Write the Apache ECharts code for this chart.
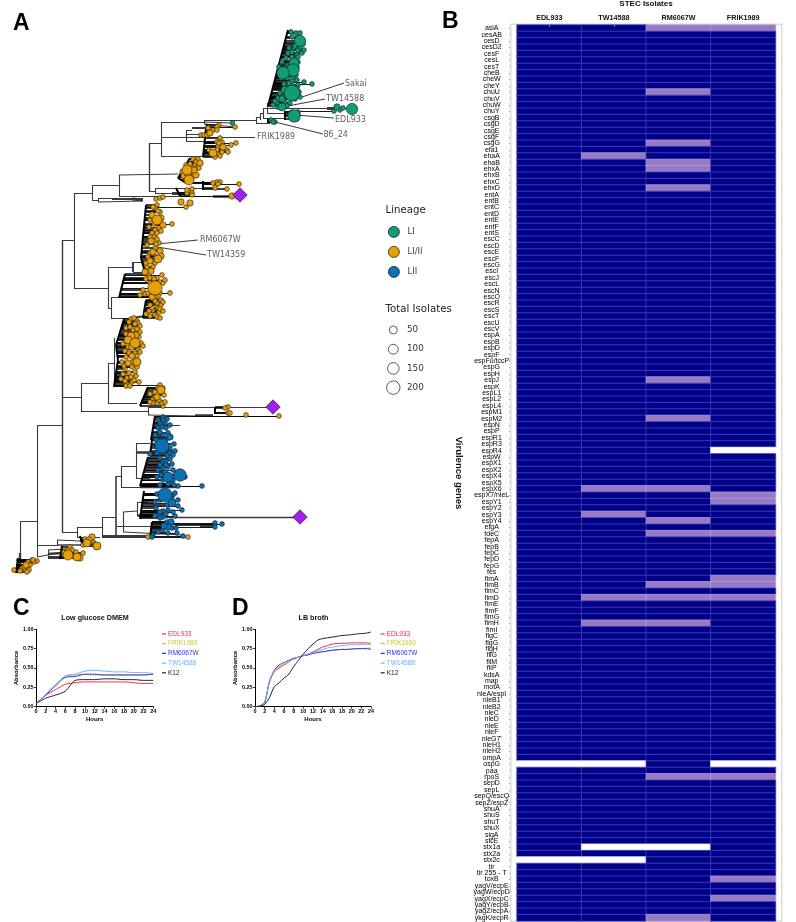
<!DOCTYPE html>
<html><head><meta charset="utf-8"><style>html,body{margin:0;padding:0;background:#fff}#c{width:796px;height:922px}</style>
<script src="https://cdn.jsdelivr.net/npm/echarts@6/dist/echarts.min.js"></script></head>
<body><div id="c"></div><script>
// ---------- Panel B data ----------
const isolates = ['EDL933','TW14588','RM6067W','FRIK1989'];
const genes = ['aslA','cesAB','cesD','cesD2','cesF','cesL','cesT','cheB','cheW','cheY','chuU','chuV','chuW','chuY','csgB','csgD','csgE','csgF','csgG','efa1','ehaA','ehaB','ehxA','ehxB','ehxC','ehxD','entA','entB','entC','entD','entE','entF','entS','escC','escD','escE','escF','escG','escI','escJ','escL','escN','escO','escR','escS','escT','escU','escV','espA','espB','espD','espF','espFu/tccP','espG','espH','espJ','espK','espL1','espL2','espL4','espM1','espM2','espN','espP','espR1','espR3','espR4','espW','espX1','espX2','espX4','espX5','espX6','espX7/nleL','espY1','espY2','espY3','espY4','etgA','fdeC','fepA','fepB','fepC','fepD','fepG','fes','fimA','fimB','fimC','fimD','fimE','fimF','fimG','fimH','fimI','flgC','flgG','flgH','fliG','fliM','fliP','kdsA','map','motA','nleA/espI','nleB1','nleB2','nleC','nleD','nleE','nleF',"nleG7'",'nleH1','nleH2','ompA','ospG','paa','rpoS','sepD','sepL','sepQ/escQ','sepZ/espZ','shuA','shuS','shuT','shuX','sigA','stcE','stx1a','stx2a','stx2c','tir','tir 255 - T','toxB','yagV/ecpE','yagW/ecpD','yagX/ecpC','yagY/ecpB','yagZ/ecpA','ykgK/ecpR'];
const partialEDL933 = [];
const partialTW14588 = ['ehaA','espX6','espY3','fimD','fimH'];
const partialRM6067W = ['aslA','chuU','csgG','ehaB','ehxA','ehxD','espJ','espM2','espX6','espY4','fdeC','fimB','fimD','fimH','rpoS','ykgK/ecpR'];
const partialFRIK1989 = ['aslA','espX7/nleL','espY1','fdeC','fimA','fimB','fimD','rpoS','toxB','yagX/ecpC'];
const absentEDL933 = ['ospG','stx2c'];
const absentTW14588 = ['ospG','stx1a','stx2c'];
const absentRM6067W = ['stx1a'];
const absentFRIK1989 = ['espR4','ospG'];
// ---------- Panels C, D data ----------
const hoursC = [0,2,4,6,8,10,12,14,16,18,20,22,24];
const dmemEDL933 = [.04,.15,.22,.29,.31,.32,.32,.32,.32,.32,.31,.30,.30];
const dmemFRIK1989 = [.04,.16,.29,.39,.41,.42,.41,.41,.41,.41,.41,.41,.42];
const dmemRM6067W = [.04,.15,.27,.38,.39,.42,.42,.41,.41,.41,.41,.41,.42];
const dmemTW14588 = [.04,.16,.28,.40,.42,.46,.47,.46,.45,.45,.44,.44,.43];
const dmemK12 = [.04,.11,.15,.20,.34,.35,.35,.36,.36,.35,.35,.34,.34];
const hoursD = [0,1,2,3,4,5,6,7,8,9,10,11,12,13,14,15,16,17,18,19,20,21,22,23,24];
const lbEDL933 = [0,.01,.05,.32,.45,.50,.54,.58,.62,.64,.66,.68,.71,.74,.77,.79,.81,.815,.82,.82,.825,.825,.825,.825,.82];
const lbFRIK1989 = [0,.01,.05,.32,.46,.52,.56,.59,.62,.64,.66,.67,.69,.70,.71,.72,.73,.735,.74,.74,.745,.75,.75,.755,.76];
const lbRM6067W = [0,.01,.06,.33,.47,.54,.57,.60,.62,.64,.66,.67,.69,.70,.71,.72,.73,.735,.74,.74,.745,.75,.75,.75,.74];
const lbTW14588 = [0,.01,.05,.33,.46,.53,.57,.60,.63,.64,.66,.68,.70,.72,.74,.76,.77,.78,.79,.795,.80,.80,.805,.805,.80];
const lbK12 = [0,.005,.03,.12,.26,.31,.37,.42,.52,.60,.68,.75,.81,.86,.88,.89,.90,.91,.92,.925,.93,.94,.945,.95,.965];
const growthColors = {EDL933:'#ee3040',FRIK1989:'#c9c92a',RM6067W:'#3030ee',TW14588:'#6fb0ff',K12:'#222222'};
// ---------- Panel A data: tree space (distance, tip order, isolates) ----------
const branches = [
[37,425,37,545],[37,425,62,425],[62,240,62,532,1.4],[62,240,74,240],[74,193,74,288],[74,193,92,193],[92,185,92,200],[92,185,119,185],[119,175,119,196],[119,175,178,174],[119,196,213,196],[213,196,232,196,2.5],[92,200,98,200],[98,198,98,202],[98,198,143,198],[112,199,132,199,2.2],[132,199,143,200,2.8],[98,202,143,201],
[149,143,149,191,1.4],[149,143,161,143],[161,122,161,156],[161,122,204,122],[161,137,186,137],[186,130,186,141],[161,156,202,156],[149,191,155,191],[155,188,155,193],[155,188,203,188],[155,193,172,193],[172,193,192,193,2.8],[186,130,192,130],[192,128,207,128,2.2],[186,134,205,134],[186,141,204,141],[204,120,204,124],[204,120,256,120],[204,124,235,127],[204,122,232,123],
[256,117,256,123],[256,123,270,123],[256,117,260,117],[260,113,260,120],[260,113,263,113],[263,108,263,118],[263,118,285,118],[263,108,267,108],[267,103,267,113],[267,103,272,103],[267,113,285,113],[285,113,285,118],[267,108,327,108],[327,108,337,108,2.8],[337,108,352,109],
[62,397,81,397],[81,383,81,411],[81,383,108,383],[108,363,108,403],[108,363,114,363],[108,403,137,403],[114,338,114,385],[81,411,148,411],[148,407,148,415],[148,407,272,407],[148,415,195,416],[195,415,213,415,2.6],[213,416,280,416],
[74,288,108,288],[108,267,108,308],[108,267,133,267],[133,262,133,272,2],[133,262,143,262],[133,272,145,272],[108,308,111,308],[111,297,111,318],[111,297,119,297],[111,318,132,318],[132,318,146,316,2.2],
[20,521,37,521],[20,521,20,560],[62,532,77,532],[77,527,77,537],[77,527,102,527],[102,517,102,536],[102,517,116,517],[116,476,116,536,1.6],[116,476,121,476],[121,466,121,487],[121,466,136,466],[136,452,136,478],[136,443,136,452],[136,443,150,443],[136,478,150,478],[136,452,150,452,2.6],[121,487,140,487],[140,486,177,486,3.4],[177,486,202,486],
[116,526,123,526],[123,512,123,532],[123,512,137,511],[137,502,137,515],[137,502,148,502],[137,515,148,515,2.6],[123,526,175,526],[175,525,200,525],[200,525,215,525,3.4],[123,532,183,535],[102,536,148,536,3.2],[77,537,100,537],[148,515,160,517],[160,517,295,517,1.3],[167,425,180,425],
[37,545,37,557],[37,545,57,545],[57,540,57,545],[57,540,80,541],[80,541,90,538,2.4],[57,545,83,545,1.6],[37,557,48,555],[48,550,48,557],[48,550,66,549],[48,554,62,553,2.6],[48,557,70,557,3.2],[20,553,20,568,2.4],[17,563,35,561],[17,566,30,566,2],[16,569,28,570,2.4],[16,560,28,560,1.6]
];
const cladeEdges = [ // x,y at the clade's first tip, x,y at its last tip
[288,30,268,106],[285,111,285,120],[268,119,268,123],
[207,124,205,135],[205,138,203,157],[190,158,178,178],[178,178,186,183],[203,181,203,190],[176,188,180,196],
[146,205,141,258],[141,258,145,272],[125,274,119,298],[146,300,143,318],
[124,319,116,345],[116,345,118,360],[118,360,114,387],[148,387,140,406],[215,407,215,414],
[155,416,151,440],[152,440,150,456],[148,457,140,486],[144,491,140,519],[152,522,150,538],
[80,536,83,546],[62,546,60,559],[18,558,16,573]];
const leaders = [[344,83,290,101],[325,99,282,107],[334,118,295,115],[323,134,275,122],[255,137,186,137],[198,240,157,244],[206,255,157,247]];
const tipLabels = [['Sakai',345,84],['TW14588',326,99],['EDL933',335,119.5],['86_24',323.5,134.5],['FRIK1989',257,137],['RM6067W',200,240],['TW14359',207,255]];
const outgroups = [[240,195],[273,407],[300,517]];
const tipsLI = [[296,33],[300,33],[292,37],[300,41,150],[296,43],[289,48],[294,48],[298,50],[302,53],[297,55],[292,57],[298,57],[294,63,100],[282,62],[288,65],[293,70,200],[283,73,200],[289,75],[287,78],[293,77],[297,80],[304,82,10],[312,84,10],[298,85],[293,86],[288,87],[285,90,50],[297,88],[292,93,400],[287,95,25],[283,97],[278,98,10],[282,99,25],[285,102],[290,103],[277,103],[282,107,50],[273,105],
[291,32],[297,38],[303,44],[295,46],[288,53],[292,52],[300,47],[304,50],[286,58],[291,61],[298,62],[285,68],[290,66],[297,67],[279,67],[281,78],[285,74],[292,81],[296,75],[289,83],[284,84],[291,89],[299,92],[295,99],[290,97],[280,93],[275,101],[287,106],[278,107],[300,97],
[334,111],[337,107,25],[340,110],[343,108],[352,109,150],[298,112],[294,116,200],[298,115],[297,119],[292,113,25],[271,120],[275,122,10],[273,122],[232.5,123,10]];
const tipsLIII = [[235,127,10],[219,125],[217,127],[208,128],[213,130],[210,133,25],[217,130],[201,135],[204,135],[207,135],
[236,143,10],[231,145,10],[220,138],[217,142],[222,142],[218,147],[223,147,25],[227,150,10],[228,152,10],[213,153,50],[218,154],[220,156],[215,157],[222,152],[217,150],[219,143],[209,150],
[198,159],[193,159],[200,163,25],[195,165],[192,168],[187,170,100],[197,168],[193,173,25],[188,173,50],[196,175,25],[189,180,100],[192,177],[185,177],[183,172,25],[186,165],[190,164],[194,170,25],[184,176,25],[196,162],[199,168],
[220,182],[217,182],[218,184],[213,183],[215,188],[239,184],[227,189,10],[192,189],[192,193],[187,193],[187,190],[192,195],[232,196,25],[238,197,10],[156,199,10],[160,198],[163,197],[181,202,25],[190,203,25],[186,207,10],
[157,205],[155,208,10],[160,212,10],[152,215,25],[157,220,100],[163,225,25],[172,224,10],[159,228],[155,230],[152,233],[157,233],[154,237],[151,241,25],[159,243],[157,239],[155,248,10],[160,251,25],[150,253],[158,259,50],[150,261,25],[155,263],[151,271,25],[145,272,25],[147,267],
[153,207],[158,211],[150,220],[161,218,25],[154,224],[149,227],[161,231],[150,237],[147,245,10],[156,244],[153,252,25],[148,257],[156,257],[161,256,25],[146,263],[153,267],[149,274],
[162,275,10],[157,278],[146,279,10],[160,282],[163,283],[155,288,300],[170,293,10],[145,294],[160,293],[152,297,25],[148,293],[150,278,10],[154,279],[150,283],[158,296],[143,290],[140,295],[155,297],[165,280],
[161,300],[157,303],[161,305],[158,308],[153,310],[159,312],[155,315],[150,316],[157,317],[160,318,10],[152,308],[163,302],[155,301],[150,305],[149,311],[160,309],[146,314],[163,311,10],
[131,319],[137,321],[138,323],[140,326],[135,324],[133,330],[140,332],[136,335,25],[131,336,50],[139,337],[128,340,50],[135,343,100],[141,343],[132,347,25],[138,349],[132,356,25],[140,352],[126,357],[128,363,25],[137,362,50],[132,367],[125,369],[129,373],[123,374],[127,378],[131,377],[132,382],[127,384],[139,382,10],[134,380],[126,386,10],
[134,318],[129,322],[126,328],[130,327],[137,329],[126,334],[134,339],[123,344],[128,347],[137,346],[143,346],[125,351],[135,353],[129,353],[137,356],[122,362],[133,362],[124,366],[137,367],[135,372],[121,379],[125,381],[136,376],[130,386],
[160,385],[163,388],[161,390,50],[155,392],[157,397,25],[153,399],[161,402],[157,403],[163,406,10],[162,403],[153,403],[158,388],[155,397],[150,394],[164,395,10],[159,400],[150,402],[165,402],
[228,407],[225,408],[228,413],[230,413],[246,415,10],[279,416,10],[148,537,10],[188,537,10],
[92,537,25],[89,540,25],[87,543,50],[93,542,10],[83,545,10],[97,546,50],[70,547,10],[68,551,25],[68,555,100],[76,552,10],[83,553,10],[77,557,50],[64,555],[32,560,10],[28,562],[37,561],[34,562],[26,565,25],[28,567],[25,570],[29,570],[14,570],[22,568],
[85,539],[95,544],[72,550],[64,552],[72,556],[80,558,25],[30,565],[33,560],[24,567],[20,571],[27,572]];
const tipsLII = [[163,417],[167,419],[160,423],[165,423],[162,427],[166,428],[168,433],[163,435],[170,437,25],[165,440],[162,446,300],[170,448],[175,451,10],[170,453],[157,453,10],[150,454,10],[167,456],[170,459],[163,462],[172,464,10],[168,467],[163,468],[165,472],[180,475,200],[185,477],[168,477,100],[173,480],[163,480],[178,486,10],[174,485],[170,483],[165,495,300],[173,495],[175,493,10],[172,503,50],[178,506,10],[182,510,10],[167,505],[163,511],[173,512],[158,515],[163,517],[160,518],[171,522,25],[168,527,25],[172,528],[163,530],[177,533,10],[183,536,10],[153,535,10],[152,537,10],
[158,420],[163,420],[170,425],[158,428],[168,438],[160,432],[155,435],[174,444],[156,440],[173,455],[160,458],[166,461],[160,465],[173,470],[166,465],[176,474],[158,470],[161,475],[157,477],[168,484],[160,485],
[157,494],[172,499],[160,500],[155,502],[178,500],[168,510],[156,508],[160,512],[166,514],[155,516],[175,516],[167,522],[164,526,25],[176,528],[158,532],[168,533],
[202,486,10],[215,523,10],[215,527,10],[222,524,10]];
const sizeLegend = [50,100,150,200];
// ---------- helpers ----------
const isoSize = n => 8*Math.pow((n||10)/50,0.32);
const tipSeries = (name,tips,color) => ({type:'scatter',name,xAxisIndex:0,yAxisIndex:0,z:5,
  data:tips.map(t=>[t[0],t[1],t[2]||10]).sort((a,b)=>a[2]-b[2]),symbolSize:v=>isoSize(v[2]),
  itemStyle:{color,borderColor:'#1a1a1a',borderWidth:.6,opacity:1},silent:true});
const segSeries = (list,color,dw) => ({type:'lines',coordinateSystem:'cartesian2d',xAxisIndex:0,yAxisIndex:0,silent:true,z:3,
  data:list.map(b=>({coords:[[b[0],b[1]],[b[2],b[3]]],lineStyle:{width:b[4]||dw}})),lineStyle:{color,width:dw,opacity:1}});
// every tip hangs from the edge of its clade by a stem
const stems = [...tipsLI,...tipsLIII,...tipsLII].flatMap(t=>{
  const e = cladeEdges.find(c=>t[1]>=c[1]&&t[1]<=c[3]);
  if(!e) return [];
  const x = e[0]+(e[2]-e[0])*(t[1]-e[1])/(e[3]-e[1]);
  if(x>=t[0]) return [];
  return [[x,t[1],t[0],t[1],t[0]-x>26?.9:1.5]];
});
const partial = [partialEDL933,partialTW14588,partialRM6067W,partialFRIK1989];
const absent = [absentEDL933,absentTW14588,absentRM6067W,absentFRIK1989];
const heatData = [];
isolates.forEach((iso,i)=>genes.forEach((g,j)=>{
  const v = absent[i].includes(g)?0:partial[i].includes(g)?1:2;
  heatData.push({value:[i,j,v],itemStyle:{borderColor:v===0?'#ffffff':v===1?'#b6a4dc':'#4a4ab4',borderWidth:.7}});
}));
const growthSeries = (names,xs,arrs,gi) => names.map((n,k)=>({type:'line',name:n,xAxisIndex:gi,yAxisIndex:gi,showSymbol:false,smooth:.25,
  data:xs.map((h,i)=>[h,arrs[k][i]]),lineStyle:{color:growthColors[n],width:1},itemStyle:{color:growthColors[n]},silent:true,z:4}));
const gNames = ['EDL933','FRIK1989','RM6067W','TW14588','K12'];
const gAxisX = gi => ({type:'value',gridIndex:gi,min:0,max:24,interval:2,name:'Hours',nameLocation:'middle',nameGap:9.5,
  nameTextStyle:{fontSize:6,fontWeight:'bold',color:'#000',fontFamily:'Liberation Sans'},
  axisLine:{show:true,lineStyle:{color:'#000',width:1}},axisTick:{show:true,length:2,lineStyle:{color:'#000',width:.8}},splitLine:{show:false},
  axisLabel:{fontSize:5.4,fontWeight:'bold',color:'#000',margin:2.5,fontFamily:'Liberation Sans',hideOverlap:false}});
const gAxisY = gi => ({type:'value',gridIndex:gi,min:0,max:1,interval:.25,name:'Absorbance',nameLocation:'middle',nameRotate:90,nameGap:16,
  nameTextStyle:{fontSize:6,fontWeight:'bold',color:'#000',fontFamily:'Liberation Sans'},
  axisLine:{show:true,lineStyle:{color:'#000',width:1}},axisTick:{show:true,length:2,lineStyle:{color:'#000',width:.8}},splitLine:{show:false},
  axisLabel:{fontSize:5.4,fontWeight:'bold',color:'#000',margin:2.5,formatter:v=>v.toFixed(2),fontFamily:'Liberation Sans'}});
const gLegend = left => ({show:true,orient:'vertical',left,top:630.5,itemWidth:4,itemHeight:1.2,itemGap:2.7,icon:'rect',selectedMode:false,padding:0,
  data:gNames.map(n=>({name:n,textStyle:{color:growthColors[n],fontSize:6.5,lineHeight:6,fontFamily:'Liberation Sans',padding:[0,0,0,-3]}})),textStyle:{fontSize:6.5}});
const letter = (text,left,top)=>({text,left,top,padding:0,textStyle:{fontSize:23,fontWeight:'bold',color:'#000',fontFamily:'Liberation Sans'}});
const subTitle = (text,left,top,fs)=>({text,left,top,padding:0,textAlign:'center',textStyle:{fontSize:fs,fontWeight:'bold',color:'#111',fontFamily:'Liberation Sans'}});
const treeText = (text,x,y,fs,fill)=>({type:'text',x,y,style:{text,fontSize:fs,fill:fill||'#222',fontFamily:'DejaVu Sans',verticalAlign:'middle'}});
const legendGraphics = [
  {type:'rect',shape:{x:510.7,y:24.3,width:271,height:897},style:{fill:'none',stroke:'#dcdcdc',lineWidth:1.5},z:1},
  treeText('Lineage',385.5,210.5,10.2),treeText('Total Isolates',385.5,309,10.2)
];
sizeLegend.forEach((n,i)=>{
  const y = 330+i*19.2;
  legendGraphics.push({type:'circle',shape:{cx:393.3,cy:y,r:4+i*0.9},style:{fill:'#fff',stroke:'#333',lineWidth:.8}});
  legendGraphics.push(treeText(String(n),407,y,8.8,'#333'));
});
const option = {
  animation:false,backgroundColor:'#fff',
  title:[letter('A',13,12),letter('B',442,10),letter('C',13,597),letter('D',232,597),
    subTitle('STEC Isolates',646,0,8),subTitle('Low glucose DMEM',95,615,7.2),subTitle('LB broth',313.5,615,7.2)],
  grid:[
    {left:0,top:0,width:400,height:600,containLabel:false},
    {left:517,top:25,width:258.5,height:896},
    {left:36,top:629.3,width:117.3,height:77.4},
    {left:255,top:629.3,width:116,height:77.4}],
  xAxis:[
    {type:'value',gridIndex:0,min:0,max:400,show:false},
    {type:'category',gridIndex:1,data:isolates,position:'top',axisLine:{show:false},axisTick:{show:true,length:1.5,inside:true,alignWithLabel:true,lineStyle:{color:'#999'}},
      axisLabel:{fontSize:7.2,fontWeight:'bold',color:'#111',margin:3,fontFamily:'Liberation Sans'},splitLine:{show:false},z:6},
    gAxisX(2),gAxisX(3)],
  yAxis:[
    {type:'value',gridIndex:0,min:0,max:600,inverse:true,show:false},
    {type:'category',gridIndex:1,data:genes,inverse:true,offset:6,name:'Virulence genes',nameLocation:'middle',nameRotate:-90,nameGap:47,
      nameTextStyle:{fontSize:9.5,fontWeight:'bold',color:'#111',fontFamily:'Liberation Sans'},
      axisLine:{show:false},axisTick:{show:true,length:2,alignWithLabel:true,interval:0,lineStyle:{color:'#777',width:.7}},
      axisLabel:{interval:0,align:'center',margin:19.3,fontSize:7,color:'#000',lineHeight:6.4,fontFamily:'Liberation Sans'},splitLine:{show:false}},
    gAxisY(2),gAxisY(3)],
  visualMap:[{type:'piecewise',show:false,seriesIndex:0,dimension:2,pieces:[{value:2,color:'#00008b'},{value:1,color:'#967bc4'},{value:0,color:'#ffffff'}]}],
  legend:[
    {show:true,orient:'vertical',left:388,top:226,itemWidth:11,itemHeight:11,itemGap:8.2,icon:'circle',selectedMode:false,padding:0,
      itemStyle:{borderWidth:.8,borderColor:'#222'},
      data:['LI','LI/II','LII'],textStyle:{fontSize:8.5,lineHeight:10,color:'#444',fontFamily:'DejaVu Sans',padding:[0,0,0,3]}},
    gLegend(162),gLegend(380.7)],
  graphic:legendGraphics,
  series:[
    {type:'heatmap',xAxisIndex:1,yAxisIndex:1,data:heatData,silent:true,emphasis:{disabled:true}},
    segSeries(branches,'#3a3a3a',1.1),
    segSeries(stems,'#000000',1.5),
    segSeries(cladeEdges,'#000000',2),
    segSeries(leaders,'#222222',.9),
    tipSeries('LI',tipsLI,'#0f9d78'),
    tipSeries('LI/II',tipsLIII,'#e9a006'),
    tipSeries('LII',tipsLII,'#0a72b4'),
    {type:'scatter',name:'Reference',xAxisIndex:0,yAxisIndex:0,z:6,data:outgroups,symbol:'diamond',symbolSize:[14.5,14.5],itemStyle:{color:'#a020f0',borderColor:'#222',borderWidth:.7,opacity:1},silent:true},
    {type:'scatter',name:'Labels',xAxisIndex:0,yAxisIndex:0,z:7,data:tipLabels.map(t=>({value:[t[1],t[2]],name:t[0]})),symbolSize:0,silent:true,
      label:{show:true,position:'right',distance:0,formatter:p=>p.name,fontSize:8,color:'#333',fontFamily:'DejaVu Sans'}},
    ...growthSeries(gNames,hoursC,[dmemEDL933,dmemFRIK1989,dmemRM6067W,dmemTW14588,dmemK12],2),
    ...growthSeries(gNames,hoursD,[lbEDL933,lbFRIK1989,lbRM6067W,lbTW14588,lbK12],3)
  ]
};
echarts.init(document.getElementById('c'),null,{renderer:'canvas'}).setOption(option);
</script></body></html>
